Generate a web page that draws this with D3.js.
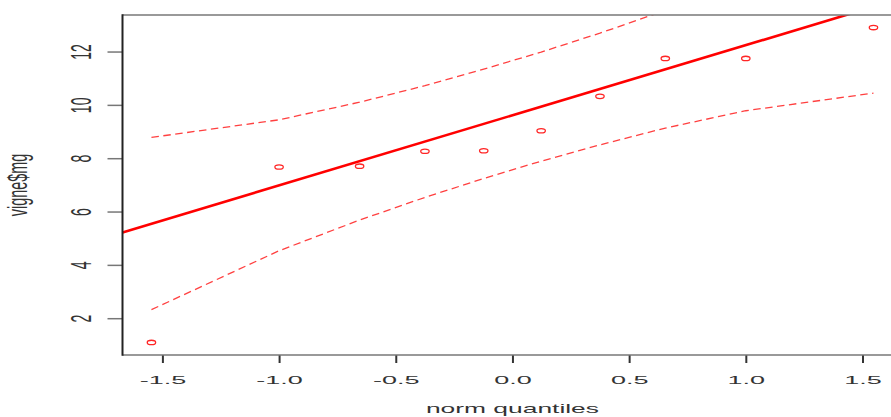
<!DOCTYPE html>
<html>
<head>
<meta charset="utf-8">
<script src="https://cdn.jsdelivr.net/npm/d3@7"></script>
<style>
  html, body { margin: 0; padding: 0; background: #fff; }
  svg { display: block; }
</style>
</head>
<body>
<svg id="chart" width="891" height="417"></svg>
<script>
// Normal QQ plot of vigne$mg with a quartile reference line and a 95% pointwise envelope.
const normQuantiles = [-1.547, -1.000, -0.655, -0.375, -0.123, 0.123, 0.375, 0.655, 1.000, 1.547];
const sampleValues  = [1.09, 7.67, 7.70, 8.26, 8.28, 9.03, 10.32, 11.74, 11.74, 12.90];
const envelopeUpper = [8.78, 9.44, 10.10, 10.72, 11.34, 11.98, 12.69, 13.54, 14.70, 16.91];
const envelopeLower = [2.32, 4.53, 5.68, 6.53, 7.24, 7.89, 8.50, 9.13, 9.78, 10.44];
const lineIntercept = 9.61;
const lineSlope = 2.63;
const xTicks = [-1.5, -1.0, -0.5, 0.0, 0.5, 1.0, 1.5];
const xTickLabels = ["-1.5", "-1.0", "-0.5", "0.0", "0.5", "1.0", "1.5"];
const yTicks = [2, 4, 6, 8, 10, 12];
const yTickLabels = ["2", "4", "6", "8", "10", "12"];
const xTitle = "norm quantiles";
const yTitle = "vigne$mg";

const FONT = "'Liberation Sans', Arial, Helvetica, sans-serif";
const RED = "#ff0000";

const svg = d3.select("#chart");
const plot = { left: 122.5, right: 902.4, top: 15, bottom: 355 };

const x = d3.scaleLinear().domain([-1.671, 1.671]).range([plot.left, plot.right]);
const y = d3.scaleLinear().domain([0.62, 13.37]).range([plot.bottom, plot.top]);

svg.append("defs").append("clipPath").attr("id", "plot-clip")
  .append("rect")
  .attr("x", plot.left).attr("y", plot.top)
  .attr("width", plot.right - plot.left).attr("height", plot.bottom - plot.top);

const inner = svg.append("g").attr("clip-path", "url(#plot-clip)");

// envelope (dashed)
const env = d3.line().x(d => x(d[0])).y(d => y(d[1]));
[envelopeUpper, envelopeLower].forEach(band => {
  inner.append("path")
    .attr("d", env(normQuantiles.map((q, i) => [q, band[i]])))
    .attr("fill", "none")
    .attr("stroke", RED)
    .attr("stroke-opacity", 0.75)
    .attr("stroke-width", 1.3)
    .attr("stroke-dasharray", "7.5,4.5");
});

// reference line through the quartiles
const [x0, x1] = x.domain();
inner.append("line")
  .attr("x1", x(x0)).attr("y1", y(lineIntercept + lineSlope * x0))
  .attr("x2", x(x1)).attr("y2", y(lineIntercept + lineSlope * x1))
  .attr("stroke", RED)
  .attr("stroke-width", 2.6);

// sample points
inner.selectAll("ellipse.pt")
  .data(normQuantiles.map((q, i) => [q, sampleValues[i]]))
  .join("ellipse")
  .attr("class", "pt")
  .attr("cx", d => x(d[0]))
  .attr("cy", d => y(d[1]))
  .attr("rx", 4.2).attr("ry", 2.2)
  .attr("fill", "none")
  .attr("stroke", RED)
  .attr("stroke-opacity", 0.85)
  .attr("stroke-width", 1.3);

// axes
const xAxis = svg.append("g")
  .attr("transform", `translate(0,${plot.bottom})`)
  .call(d3.axisBottom(x).tickValues(xTicks).tickSize(8)
        .tickFormat((d, i) => xTickLabels[i]));
xAxis.select(".domain").remove();
xAxis.selectAll(".tick line").attr("stroke", "#333").attr("stroke-width", 2);
xAxis.selectAll(".tick text")
  .attr("y", null).attr("dy", null)
  .attr("fill", "#333")
  .attr("font-family", FONT).attr("font-size", 12)
  .attr("text-anchor", "middle")
  .attr("transform", "translate(0,29) scale(2.25,0.97)");

const yAxis = svg.append("g")
  .attr("transform", `translate(${plot.left},0)`)
  .call(d3.axisLeft(y).tickValues(yTicks).tickSize(15)
        .tickFormat((d, i) => yTickLabels[i]));
yAxis.select(".domain").remove();
yAxis.selectAll(".tick line").attr("stroke", "#777").attr("stroke-width", 1.5);
yAxis.selectAll(".tick text")
  .attr("x", null).attr("dy", null)
  .attr("fill", "#333")
  .attr("font-family", FONT).attr("font-size", 12)
  .attr("text-anchor", "middle")
  .attr("transform", "translate(-32,0) rotate(-90) scale(1.17,2.5)");

// plot box
const box = svg.append("g");
box.append("line").attr("x1", plot.left).attr("x2", plot.right + 5)
  .attr("y1", plot.top).attr("y2", plot.top)
  .attr("stroke", "#777").attr("stroke-width", 1.6);
box.append("line").attr("x1", plot.left).attr("x2", plot.right + 5)
  .attr("y1", plot.bottom).attr("y2", plot.bottom)
  .attr("stroke", "#777").attr("stroke-width", 1.6);
box.append("line").attr("x1", plot.left).attr("x2", plot.left)
  .attr("y1", plot.top - 0.8).attr("y2", plot.bottom + 0.8)
  .attr("stroke", "#222").attr("stroke-width", 2);

// axis titles
svg.append("text")
  .attr("transform", `translate(${(plot.left + plot.right) / 2},413) scale(2.2,1.05)`)
  .attr("text-anchor", "middle")
  .attr("font-family", FONT).attr("font-size", 12)
  .attr("fill", "#333")
  .text(xTitle);

svg.append("text")
  .attr("transform", `translate(27,${(plot.top + plot.bottom) / 2}) rotate(-90) scale(1.2,2.3)`)
  .attr("text-anchor", "middle")
  .attr("font-family", FONT).attr("font-size", 12)
  .attr("fill", "#333")
  .text(yTitle);
</script>
</body>
</html>
